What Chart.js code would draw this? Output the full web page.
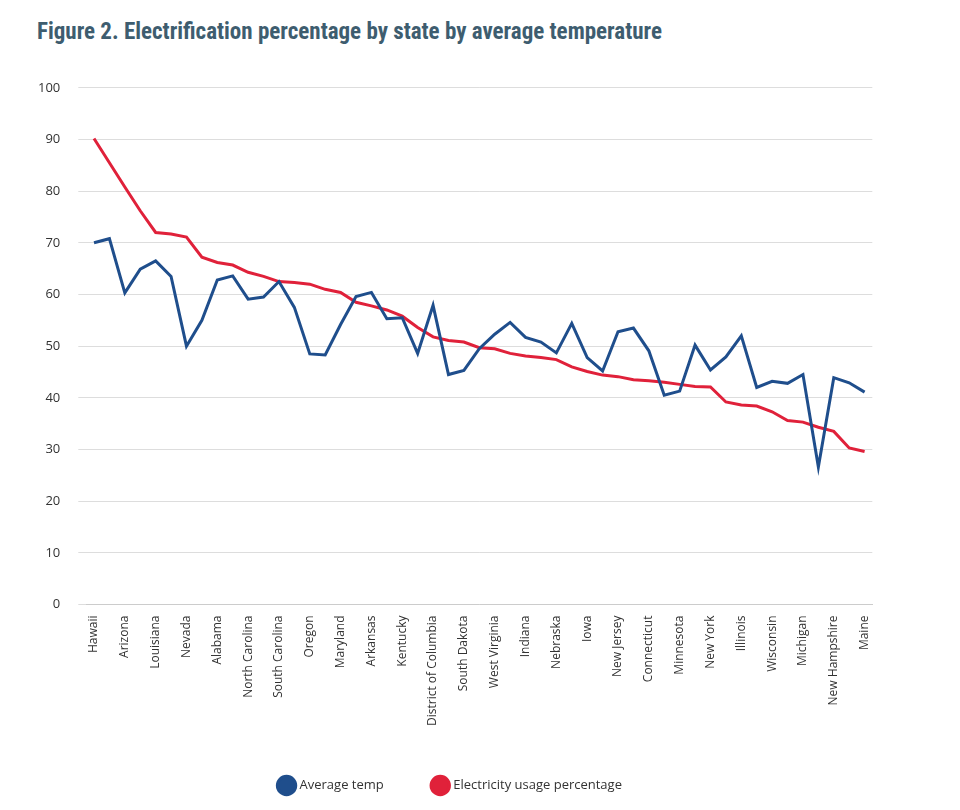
<!DOCTYPE html>
<html>
<head>
<meta charset="utf-8">
<script src="https://cdn.jsdelivr.net/npm/chart.js@4"></script>
<style>
  body { margin: 0; background: #fff; font-family: "Open Sans", sans-serif; }
  h1 { margin: 0; position: absolute; left: 37px; top: 18px; font-family: "Liberation Sans Narrow", "Roboto", sans-serif; font-stretch: condensed; font-size: 23px; font-weight: bold; color: #3e5d6f; }
  #wrap { position: absolute; left: 20px; top: 62px; width: 862px; height: 740px; }
</style>
</head>
<body>
<h1>Figure 2. Electrification percentage by state by average temperature</h1>
<div id="wrap"><canvas id="c"></canvas></div>
<script>
const states = ['Hawaii','Florida','Arizona','Texas','Louisiana','Mississippi','Nevada','Oklahoma','Alabama','Tennessee',
  'North Carolina','Georgia','South Carolina','Washington','Oregon','Virginia','Maryland','Delaware','Arkansas','Idaho',
  'Kentucky','Missouri','District of Columbia','Kansas','South Dakota','Utah','West Virginia','New Mexico','Indiana','Ohio',
  'Nebraska','Montana','Iowa','North Dakota','New Jersey','Colorado','Connecticut','Pennsylvania','Minnesota','Wyoming',
  'New York','California','Illinois','Rhode Island','Wisconsin','Massachusetts','Michigan','Alaska','New Hampshire','Vermont','Maine'];
const avgTemp = [70,70.8,60.3,64.9,66.5,63.5,50,55,62.8,63.6,59.1,59.5,62.5,57.5,48.5,48.3,54.2,59.6,60.4,55.3,
  55.5,48.6,57.9,44.5,45.3,49.5,52.3,54.6,51.7,50.8,48.7,54.4,47.8,45.2,52.8,53.5,49.1,40.5,41.3,50.2,
  45.4,47.9,52,42,43.2,42.8,44.5,26.6,43.9,42.9,41.1];
const elecPct = [90.2,85.5,80.8,76.2,72,71.7,71.1,67.2,66.2,65.7,64.3,63.5,62.5,62.3,62,61,60.4,58.5,57.8,57,
  55.8,53.6,51.8,51.1,50.8,49.7,49.5,48.6,48.1,47.8,47.4,46,45.1,44.4,44.1,43.5,43.3,43,42.6,42.2,
  42.1,39.2,38.6,38.4,37.3,35.6,35.3,34.3,33.5,30.3,29.6];

new Chart(document.getElementById('c'), {
  type: 'line',
  data: {
    labels: states,
    datasets: [
      { label: 'Average temp', data: avgTemp, borderColor: '#1f4e8c', backgroundColor: '#1f4e8c', borderWidth: 3, pointRadius: 0, tension: 0 },
      { label: 'Electricity usage percentage', data: elecPct, borderColor: '#e0213a', backgroundColor: '#e0213a', borderWidth: 3, pointRadius: 0, tension: 0 }
    ]
  },
  options: {
    responsive: true,
    maintainAspectRatio: false,
    animation: false,
    plugins: {
      legend: {
        position: 'bottom',
        labels: { usePointStyle: true, pointStyle: 'circle', boxWidth: 22, boxHeight: 22, padding: 50, color: '#333', font: { family: 'Open Sans', size: 13 } }
      },
      tooltip: { enabled: false }
    },
    scales: {
      x: {
        offset: true,
        grid: { display: false },
        border: { color: '#ccc' },
        ticks: {
          autoSkip: false, maxRotation: 90, minRotation: 90, color: '#333',
          font: { family: 'Open Sans', size: 12 },
          callback: (v, i) => i % 2 === 0 ? states[i] : ''
        }
      },
      y: {
        min: 0, max: 100,
        grid: { color: '#ddd' },
        border: { display: false },
        ticks: { stepSize: 10, color: '#333', padding: 18, font: { family: 'Open Sans', size: 13 } }
      }
    }
  }
});
</script>
</body>
</html>
